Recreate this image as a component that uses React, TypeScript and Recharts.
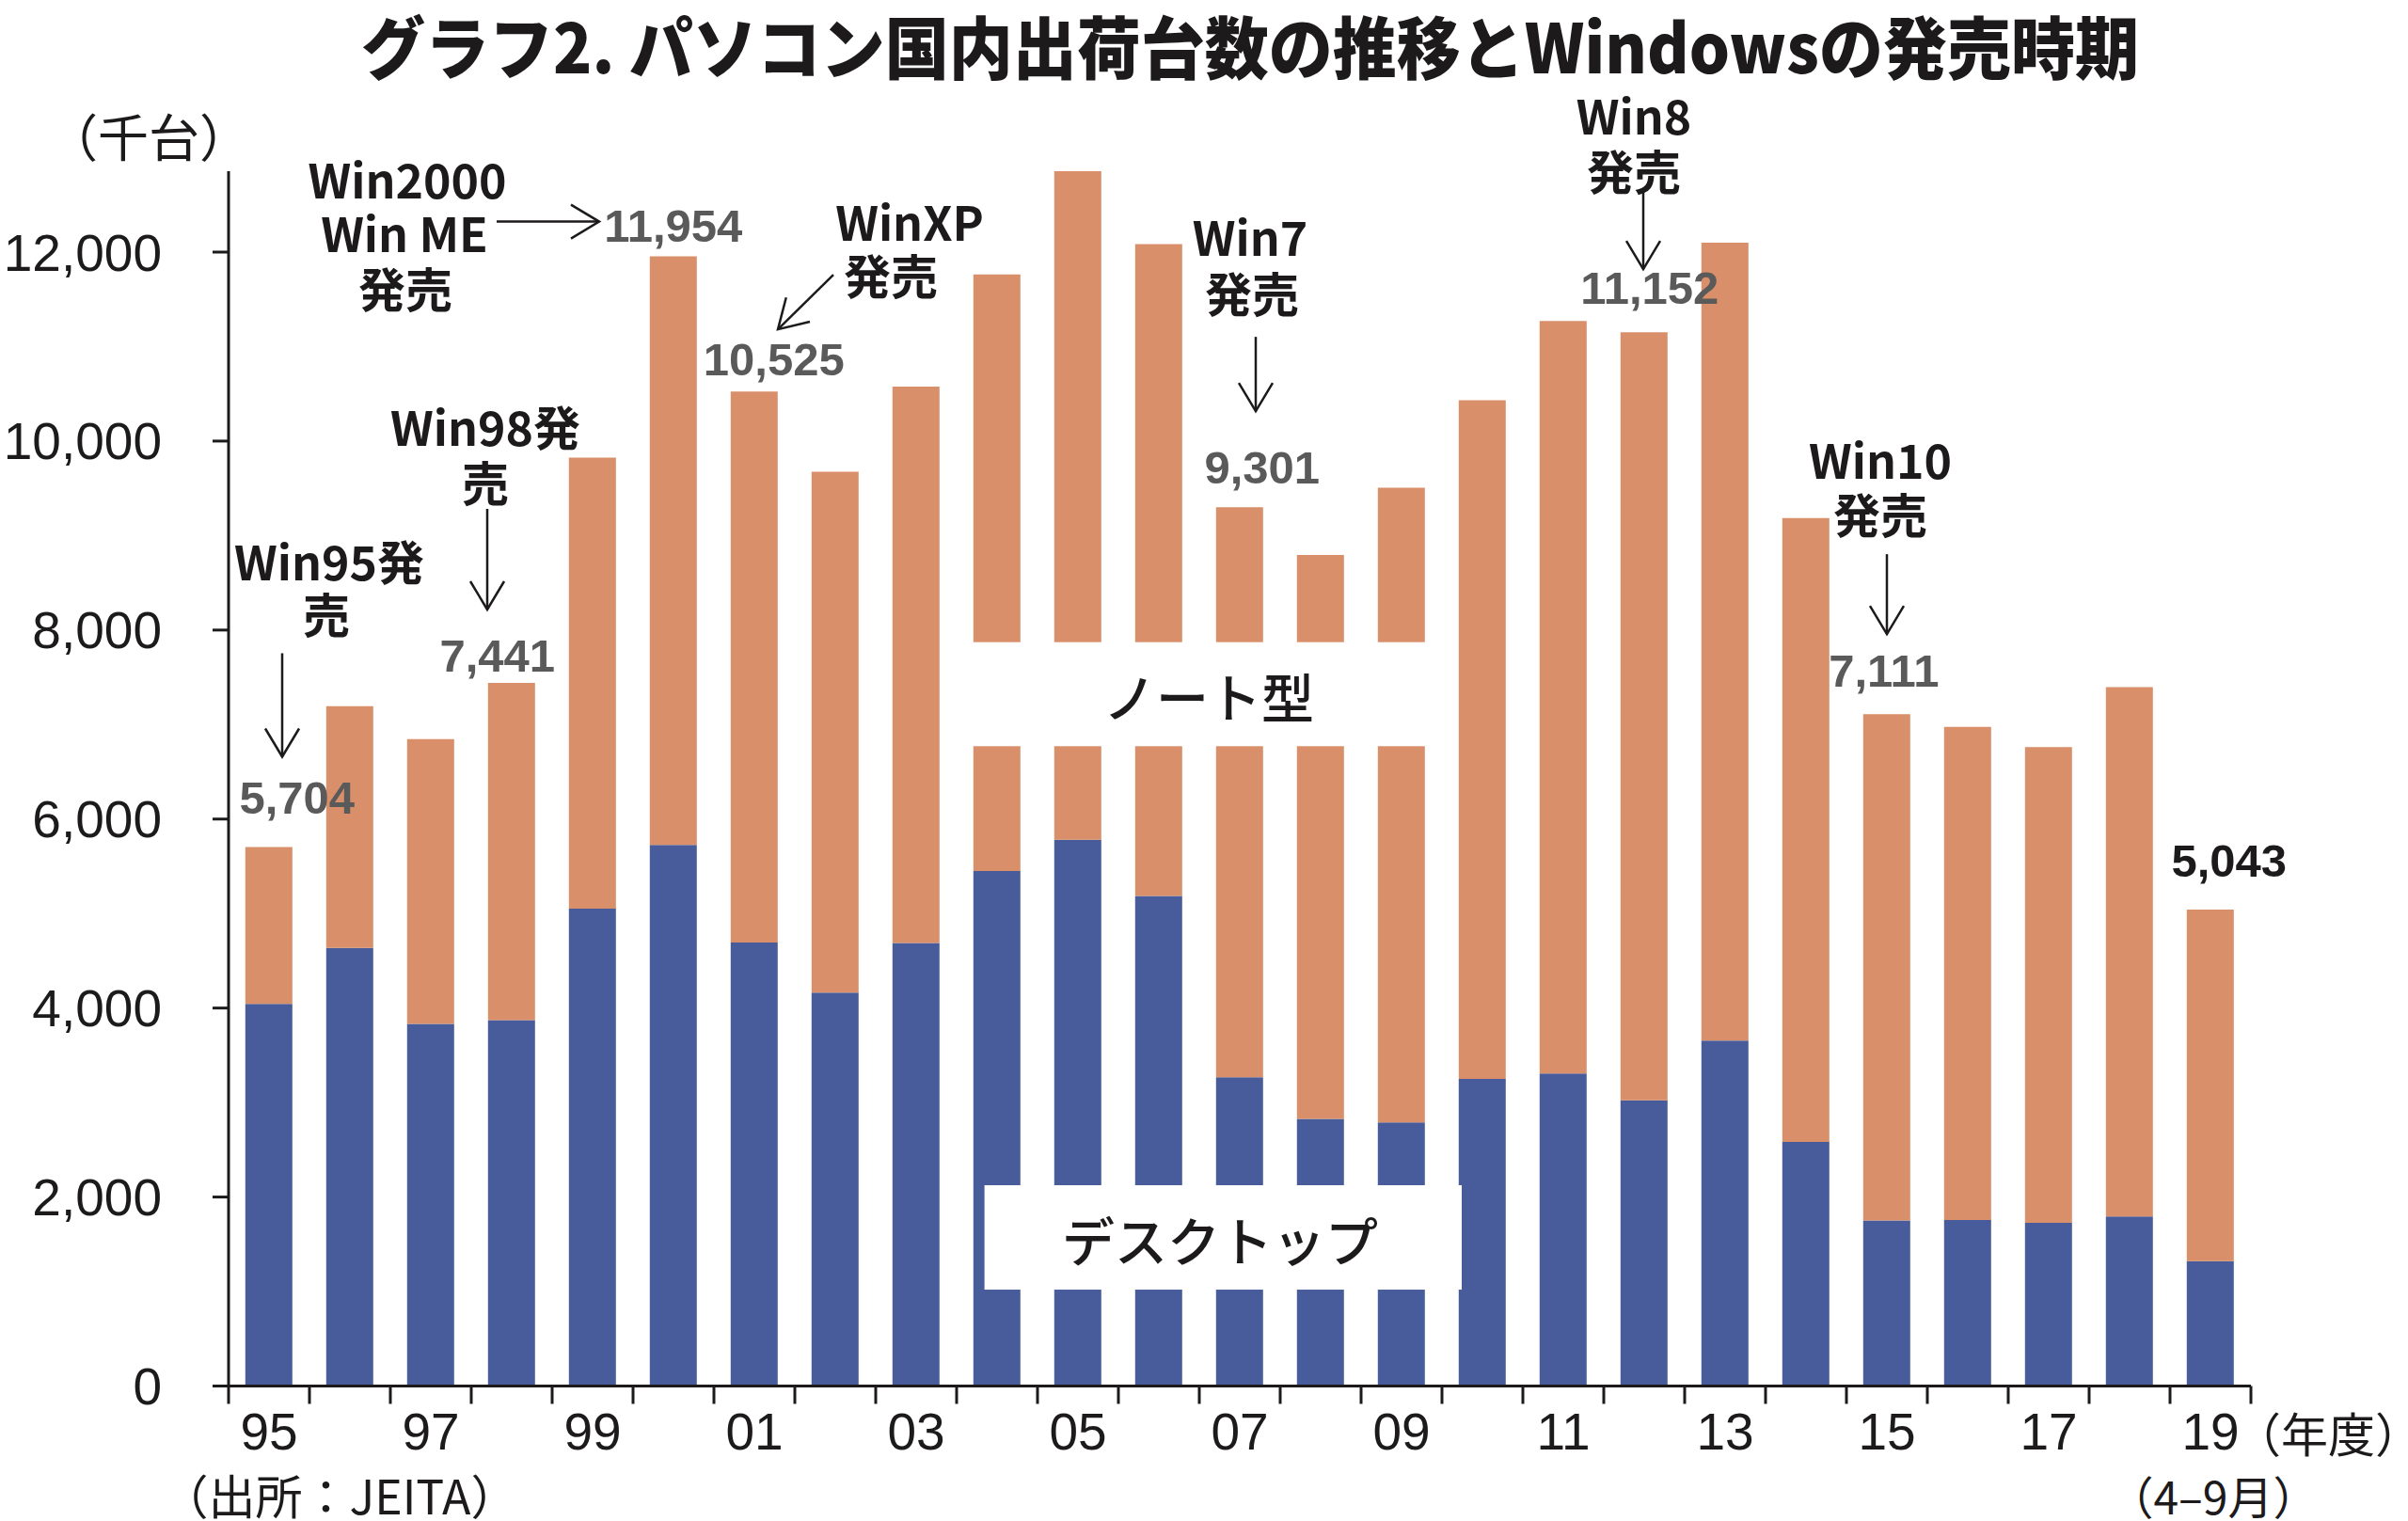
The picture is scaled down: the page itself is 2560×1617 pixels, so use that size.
import React from 'react';
import { BarChart, Bar, XAxis, YAxis, ReferenceArea, ReferenceDot, LabelList } from 'recharts';

// ---- data (thousand units) ----
const years = ['95', '96', '97', '98', '99', '00', '01', '02', '03', '04', '05', '06', '07', '08', '09', '10', '11', '12', '13', '14', '15', '16', '17', '18', '19'];
const desktop = [4045, 4636, 3832, 3873, 5051, 5726, 4693, 4164, 4688, 5450, 5782, 5186, 3267, 2826, 2789, 3251, 3308, 3023, 3656, 2582, 1752, 1757, 1726, 1794, 1322];
const notebook = [1659, 2559, 3013, 3568, 4774, 6228, 5832, 5511, 5888, 6314, 7074, 6898, 6034, 5969, 6718, 7181, 7964, 8129, 8443, 6603, 5359, 5218, 5036, 5603, 3721];
const yTicks = [0, 2000, 4000, 6000, 8000, 10000, 12000];
const labeledYears = ['95', '97', '99', '01', '03', '05', '07', '09', '11', '13', '15', '17', '19'];
const valueLabelYears = ['95', '98', '00', '01', '07', '12', '15', '19'];
const releaseNotes = [
  { year: '95', lines: ['Win95発', '売'] },
  { year: '98', lines: ['Win98発', '売'] },
  { year: '00', lines: ['Win2000', 'Win ME', '発売'] },
  { year: '01', lines: ['WinXP', '発売'] },
  { year: '07', lines: ['Win7', '発売'] },
  { year: '12', lines: ['Win8', '発売'] },
  { year: '15', lines: ['Win10', '発売'] },
];
const notebookBoxYears = ['04', '09'];
const notebookBoxRange = [6771, 7872];
const desktopBoxRange = [1020, 2125];

// ---- styles / layout ----
const W = 2560;
const H = 1617;
const M = { top: 182, right: 167, bottom: 0, left: 0 };
const Y_AXIS_W = 243;
const X_AXIS_H = 143.5;
const BAND = (W - M.right - M.left - Y_AXIS_W) / years.length;
const DESKTOP_COLOR = '#485C9C';
const NOTE_COLOR = '#D98F69';
const INK = '#1c1a1b';
const GRAY = '#5a5a5a';
const FONT_NUM = "'Liberation Sans', Arial, sans-serif";
const FONT_JP = "'Noto Sans CJK JP', 'Noto Sans', sans-serif";

const valueLabelLayout: Record<string, [number, number, string]> = {
  '95': [30, -52, GRAY],
  '98': [-15, -29, GRAY],
  '00': [0, -33, GRAY],
  '01': [21, -34, GRAY],
  '07': [24, -42, GRAY],
  '12': [6, -47, GRAY],
  '15': [-3, -46, GRAY],
  '19': [20, -52, INK],
};

const noteLayout: Record<string, { text: number[][]; arrow: number[] }> = {
  '95': { text: [[64, -305], [61, -249]], arrow: [14, -206, 14, -96] },
  '98': { text: [[-28, -274], [-28, -215]], arrow: [-26, -185, -26, -78] },
  '00': { text: [[-283, -84], [-286, -27], [-285, 32]], arrow: [-188, -37, -79, -37] },
  '01': { text: [[165, -182], [145, -125]], arrow: [84, -124, 25, -66] },
  '07': { text: [[11, -289], [13, -229]], arrow: [17, -181, 17, -102] },
  '12': { text: [[-11, -232], [-11, -173]], arrow: [-1, -149, -1, -67] },
  '15': { text: [[-7, -272], [-7, -214]], arrow: [0, -170, 0, -85] },
};

const data = years.map((y, i) => ({ year: y, desktop: desktop[i], notebook: notebook[i] }));

function Arrow({ x1, y1, x2, y2 }: { x1: number; y1: number; x2: number; y2: number }) {
  const L = 30;
  const HW = 18;
  const dx = x2 - x1;
  const dy = y2 - y1;
  const len = Math.hypot(dx, dy) || 1;
  const ux = dx / len;
  const uy = dy / len;
  const bx = x2 - ux * L;
  const by = y2 - uy * L;
  const px = -uy;
  const py = ux;
  return (
    <g stroke={INK} strokeWidth={2.5} fill="none">
      <line x1={x1} y1={y1} x2={x2} y2={y2} />
      <polyline points={`${bx + px * HW},${by + py * HW} ${x2},${y2} ${bx - px * HW},${by - py * HW}`} />
    </g>
  );
}

function NoteShape(props: any) {
  const { cx, cy, note } = props;
  if (cx == null || cy == null) return null;
  const lay = noteLayout[note.year];
  const a = lay.arrow;
  return (
    <g>
      {note.lines.map((line: string, k: number) => (
        <text
          key={k}
          x={cx + lay.text[k][0]}
          y={cy + lay.text[k][1]}
          textAnchor="middle"
          dominantBaseline="central"
          fontFamily={FONT_JP}
          fontWeight={700}
          fontSize={50}
          fill={INK}
        >
          {line}
        </text>
      ))}
      <Arrow x1={cx + a[0]} y1={cy + a[1]} x2={cx + a[2]} y2={cy + a[3]} />
    </g>
  );
}

function XTick(props: any) {
  const { x, y, payload, index } = props;
  const half = payload && typeof payload.offset === 'number' && payload.offset > 0 ? payload.offset : BAND / 2;
  const idx = typeof index === 'number' ? index : years.indexOf(payload.value);
  const isLast = idx === years.length - 1;
  return (
    <g>
      <line x1={x - half} y1={y} x2={x - half} y2={y + 19} stroke={INK} strokeWidth={3} />
      {isLast && <line x1={x + half} y1={y} x2={x + half} y2={y + 19} stroke={INK} strokeWidth={3} />}
      {labeledYears.includes(payload.value) && (
        <text x={x} y={y + 67.5} textAnchor="middle" fontFamily={FONT_NUM} fontSize={55} fill={INK}>
          {payload.value}
        </text>
      )}
    </g>
  );
}

function ValueLabel(props: any) {
  const { x, y, width, index } = props;
  const yr = years[index];
  if (!valueLabelYears.includes(yr)) return null;
  const [dx, dy, color] = valueLabelLayout[yr];
  const total = desktop[index] + notebook[index];
  return (
    <text
      x={Number(x) + Number(width) / 2 + dx}
      y={Number(y) + dy}
      textAnchor="middle"
      dominantBaseline="central"
      fontFamily={FONT_NUM}
      fontWeight={700}
      fontSize={49}
      fill={color}
    >
      {total.toLocaleString('en-US')}
    </text>
  );
}

function BoxShape(props: any) {
  const { x, y, width, height, padL, padR, label, textDx } = props;
  if (x == null) return null;
  return (
    <g>
      <rect x={x + padL} y={y} width={width - padL + padR} height={height} fill="#ffffff" />
      <text
        x={x + textDx}
        y={y + height / 2 + 1}
        textAnchor="middle"
        dominantBaseline="central"
        fontFamily={FONT_JP}
        fontWeight={500}
        fontSize={56}
        fill={INK}
      >
        {label}
      </text>
    </g>
  );
}

export default function App() {
  return (
    <div style={{ position: 'relative', width: W, height: H, background: '#fff' }}>
      <style>{`body{margin:0;background:#fff;}`}</style>
      <BarChart width={W} height={H} data={data} margin={M} barCategoryGap="20.7%">
        <XAxis
          dataKey="year"
          type="category"
          height={X_AXIS_H}
          interval={0}
          tickLine={false}
          tickSize={0}
          tickMargin={0}
          axisLine={{ stroke: INK, strokeWidth: 3 }}
          tick={(p: any) => <XTick {...p} />}
        />
        <YAxis
          type="number"
          domain={[0, 'dataMax']}
          ticks={yTicks}
          width={Y_AXIS_W}
          tickSize={17}
          tickMargin={54}
          axisLine={{ stroke: INK, strokeWidth: 3 }}
          tickLine={{ stroke: INK, strokeWidth: 3 }}
          tick={{ fontFamily: FONT_NUM, fontSize: 55, fill: INK }}
          tickFormatter={(v: number) => v.toLocaleString('en-US')}
        />
        <Bar dataKey="desktop" stackId="a" fill={DESKTOP_COLOR} isAnimationActive={false} />
        <Bar dataKey="notebook" stackId="a" fill={NOTE_COLOR} isAnimationActive={false}>
          <LabelList dataKey="notebook" content={(p: any) => <ValueLabel {...p} />} />
        </Bar>
        <ReferenceArea
          x1={notebookBoxYears[0]}
          x2={notebookBoxYears[1]}
          y1={notebookBoxRange[0]}
          y2={notebookBoxRange[1]}
          ifOverflow="visible"
          zIndex={700}
          shape={(p: any) => <BoxShape {...p} padL={3} padR={7} textDx={268} label="ノート型" />}
        />
        <ReferenceArea
          x1={notebookBoxYears[0]}
          x2={notebookBoxYears[1]}
          y1={desktopBoxRange[0]}
          y2={desktopBoxRange[1]}
          ifOverflow="visible"
          zIndex={700}
          shape={(p: any) => <BoxShape {...p} padL={29.6} padR={21} textDx={280} label="デスクトップ" />}
        />
        {releaseNotes.map((n) => {
          const i = years.indexOf(n.year);
          return (
            <ReferenceDot
              key={n.year}
              x={n.year}
              y={desktop[i] + notebook[i]}
              r={0}
              ifOverflow="visible"
              zIndex={800}
              shape={(p: any) => <NoteShape {...p} note={n} />}
            />
          );
        })}
      </BarChart>
      <svg width={W} height={H} style={{ position: 'absolute', left: 0, top: 0, pointerEvents: 'none' }}>
        <text
          x={1329}
          y={46}
          textAnchor="middle"
          dominantBaseline="central"
          fontFamily={FONT_JP}
          fontWeight={900}
          fontSize={72}
          textLength={1890}
          lengthAdjust="spacingAndGlyphs"
          fill={INK}
        >
          グラフ2. パソコン国内出荷台数の推移とWindowsの発売時期
        </text>
        <text x={158} y={143} textAnchor="middle" dominantBaseline="central" fontFamily={FONT_JP} fontSize={54} fill={INK}>
          （千台）
        </text>
        <text x={361} y={1588} textAnchor="middle" dominantBaseline="central" fontFamily={FONT_JP} fontSize={50} fill={INK}>
          （出所：JEITA）
        </text>
        <text x={2475} y={1522} textAnchor="middle" dominantBaseline="central" fontFamily={FONT_JP} fontSize={50} fill={INK}>
          （年度）
        </text>
        <text x={2353} y={1589} textAnchor="middle" dominantBaseline="central" fontFamily={FONT_JP} fontSize={48} fill={INK}>
          （4–9月）
        </text>
      </svg>
    </div>
  );
}
